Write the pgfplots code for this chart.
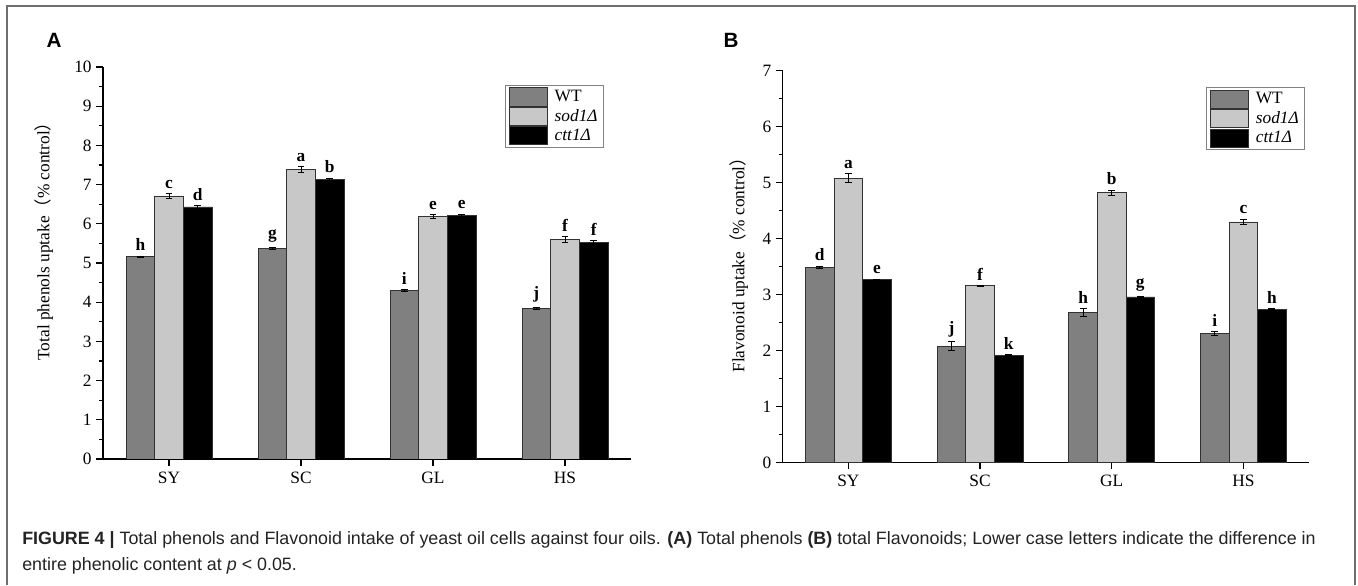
\documentclass[border=0pt]{standalone}
\usepackage{fontspec}
\setmainfont{Liberation Serif}
\newfontfamily\capfont{Liberation Sans}
\newfontfamily\cjk{Noto Sans CJK SC}
\usepackage{pgfplots}
\pgfplotsset{compat=1.18}
\usepackage{pgfplotstable}

\definecolor{wtgray}{RGB}{128,128,128}
\definecolor{sodgray}{RGB}{200,200,200}
\definecolor{edge}{RGB}{50,50,50}
\definecolor{framegray}{RGB}{110,110,110}
\definecolor{legframe}{RGB}{130,130,130}
\definecolor{captext}{RGB}{35,35,35}

% panel A: total phenols
\pgfplotstableread{
x y e l
1 5.16 0.02 h
2 5.37 0.03 g
3 4.30 0.03 i
4 3.85 0.03 j
}\Awt
\pgfplotstableread{
x y e l
1 6.71 0.06 c
2 7.38 0.08 a
3 6.18 0.05 e
4 5.60 0.07 f
}\Asod
\pgfplotstableread{
x y e l
1 6.43 0.03 d
2 7.13 0.04 b
3 6.21 0.04 e
4 5.53 0.04 f
}\Actt
% panel B: flavonoids
\pgfplotstableread{
x y e l
1 3.49 0.02 d
2 2.08 0.08 j
3 2.68 0.07 h
4 2.31 0.04 i
}\Bwt
\pgfplotstableread{
x y e l
1 5.08 0.08 a
2 3.16 0.01 f
3 4.82 0.05 b
4 4.30 0.05 c
}\Bsod
\pgfplotstableread{
x y e l
1 3.27 0.01 e
2 1.92 0.01 k
3 2.96 0.01 g
4 2.74 0.01 h
}\Bctt

\pgfplotsset{
  panel/.style={
    anchor=south west, scale only axis,
    xmin=0.5, xmax=4.5, ymin=0,
    axis lines*=left,
    axis line style={line width=0.9pt, black},
    xtick={1,2,3,4}, xticklabels={SY,SC,GL,HS},
    minor y tick num=1,
    tick align=outside,
    major tick length=5pt, minor tick length=3pt,
    tick style={line width=0.9pt, black},
    ticklabel style={font=\fontsize{13}{15}\selectfont},
    xticklabel style={yshift=-1pt},
    /pgf/number format/assume math mode=true,
    ybar, bar width=0.217,
    nodes near coords, point meta=explicit symbolic,
    visualization depends on={\thisrow{e} \as \eerr},
    legend cell align=left,
    legend image code/.code={\draw[##1, draw=edge, line width=0.6pt] (0pt,-6.8pt) rectangle (28.5pt,6.8pt);
      \path (32pt,0pt);},
    legend style={anchor=north west, draw=legframe, line width=0.6pt,
      font=\fontsize{13}{15}\selectfont, inner xsep=3pt, inner ysep=1.5pt,
      row sep=0.4pt, nodes={inner sep=1.5pt}},
  },
  bars/.style={draw=edge, line width=0.6pt,
    error bars/y dir=both, error bars/y explicit,
    error bars/error bar style={line width=0.6pt, black},
    error bars/error mark options={rotate=90, mark size=2.6pt, line width=0.6pt, black}},
}

\begin{document}
\begin{tikzpicture}[x=0.75pt, y=0.75pt]
\useasboundingbox (0,0) rectangle (1358,585);
\draw[framegray, line width=1.5pt] (7,0) -- (7,579) -- (1355,579) -- (1355,0);

\node[font=\capfont\bfseries\fontsize{15.5}{16}\selectfont] at (54,545) {A};
\node[font=\capfont\bfseries\fontsize{15.5}{16}\selectfont] at (731,545) {B};

\begin{axis}[panel,
  at={(77.25pt,94.5pt)}, width=396pt, height=294pt,
  ymax=10, ytick={0,1,...,10},
  every axis y label/.style={at={(axis description cs:-0.112,0.566)}, rotate=90, anchor=center},
  ylabel={\fontsize{13}{15}\selectfont Total phenols uptake{\cjk （}\% control{\cjk ）}},
  every node near coord/.append style={font=\bfseries\fontsize{13}{15}\selectfont, anchor=south, inner sep=1pt, yshift={\eerr*29.4pt+2.5pt}},
  legend style={at={(0.761,0.954)}},
]
\addplot[bars, fill=wtgray, bar shift=-0.217] table[x=x, y=y, y error=e, meta=l] {\Awt};
\addplot[bars, fill=sodgray, bar shift=0] table[x=x, y=y, y error=e, meta=l] {\Asod};
\addplot[bars, fill=black, bar shift=0.217] table[x=x, y=y, y error=e, meta=l] {\Actt};
\legend{WT, \textit{sod1Δ}, \textit{ctt1Δ}}
\end{axis}

\begin{axis}[panel,
  at={(586.9pt,91.7pt)}, width=395pt, height=294pt,
  ymax=7, ytick={0,1,...,7},
  every axis y label/.style={at={(axis description cs:-0.083,0.515)}, rotate=90, anchor=center},
  ylabel={\fontsize{13}{15}\selectfont Flavonoid uptake{\cjk （}\% control{\cjk ）}},
  every node near coord/.append style={font=\bfseries\fontsize{13}{15}\selectfont, anchor=south, inner sep=1pt, yshift={\eerr*42pt+2.5pt}},
  legend style={at={(0.804,0.958)}},
]
\addplot[bars, fill=wtgray, bar shift=-0.217] table[x=x, y=y, y error=e, meta=l] {\Bwt};
\addplot[bars, fill=sodgray, bar shift=0] table[x=x, y=y, y error=e, meta=l] {\Bsod};
\addplot[bars, fill=black, bar shift=0.217] table[x=x, y=y, y error=e, meta=l] {\Bctt};
\legend{WT, \textit{sod1Δ}, \textit{ctt1Δ}}
\end{axis}

\node[anchor=base west, inner sep=0, text=captext, font=\capfont\fontsize{13.4}{15}\selectfont] at (22,41)
  {\textbf{FIGURE 4 |} Total phenols and Flavonoid intake of yeast oil cells against four oils. \textbf{(A)} Total phenols \textbf{(B)} total Flavonoids; Lower case letters indicate the difference in};
\node[anchor=base west, inner sep=0, text=captext, font=\capfont\fontsize{13.4}{15}\selectfont] at (22,15)
  {entire phenolic content at \textit{p} < 0.05.};
\end{tikzpicture}
\end{document}
